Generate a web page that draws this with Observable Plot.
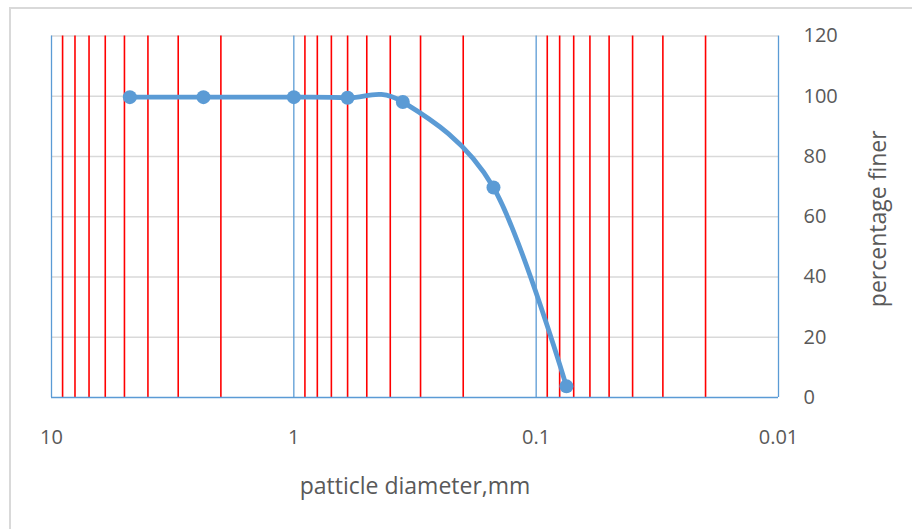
<!DOCTYPE html>
<html><head><meta charset="utf-8">
<script src="https://cdn.jsdelivr.net/npm/d3@7"></script>
<script src="https://cdn.jsdelivr.net/npm/@observablehq/plot@0.6"></script>
<style>
body{margin:0;background:#fff;}
#wrap{position:relative;width:912px;height:529px;overflow:hidden;background:#fff;}
#wrap svg{position:absolute;left:0;top:0;}
#border{position:absolute;left:9px;top:7px;width:1000px;height:1000px;border:2px solid #d9d9d9;box-sizing:border-box;}
</style></head><body><div id="wrap"><div id="border"></div></div>
<script>
const diameter = [4.75, 2.36, 1.0, 0.6, 0.355, 0.15, 0.075];
const percentFiner = [99.7, 99.7, 99.7, 99.5, 98.1, 69.7, 3.7];
const decadeTicks = [10, 1, 0.1, 0.01];
const minorTicks = [9, 8, 7, 6, 5, 4, 3, 2,
  0.9, 0.8, 0.7, 0.6, 0.5, 0.4, 0.3, 0.2,
  0.09, 0.08, 0.07, 0.06, 0.05, 0.04, 0.03, 0.02];
const yTicks = [0, 20, 40, 60, 80, 100, 120];
const xLabel = "patticle diameter,mm";
const yLabel = "percentage finer";

const data = diameter.map((d, i) => ({d, p: percentFiner[i]}));
const blue = "#5b9bd5";
const textColor = "#595959";

const plot = Plot.plot({
  width: 912, height: 529,
  marginLeft: 51, marginRight: 134, marginTop: 35.5, marginBottom: 132,
  style: {fontFamily: "'Open Sans', sans-serif", fontSize: "20px", color: textColor, background: "transparent"},
  x: {type: "log", domain: [10, 0.01]},
  y: {domain: [0, 120]},
  marks: [
    Plot.ruleY(yTicks.filter(v => v > 0), {stroke: "#d9d9d9", strokeWidth: 1.5}),
    Plot.ruleX(minorTicks, {stroke: "#ff0000", strokeWidth: 1.6}),
    Plot.ruleX(decadeTicks, {stroke: blue, strokeWidth: 1.3}),
    Plot.ruleY([0], {stroke: blue, strokeWidth: 1.6}),
    Plot.axisX({ticks: decadeTicks, tickFormat: d => String(d), tickSize: 0, tickPadding: 32, label: null, fill: textColor}),
    Plot.axisY({anchor: "right", ticks: yTicks, tickSize: 0, tickPadding: 25, label: null, fill: textColor}),
    Plot.line(data, {x: "d", y: "p", curve: "cardinal", stroke: blue, strokeWidth: 4.8}),
    Plot.dot(data, {x: "d", y: "p", r: 7, fill: blue}),
    Plot.text([xLabel], {frameAnchor: "bottom", dy: 96, fill: textColor, fontSize: 23}),
    Plot.text([yLabel], {frameAnchor: "right", dx: 100, dy: 2, rotate: -90, textAnchor: "middle", fill: textColor, fontSize: 23})
  ]
});
document.getElementById("wrap").appendChild(plot);
</script>
</body></html>
